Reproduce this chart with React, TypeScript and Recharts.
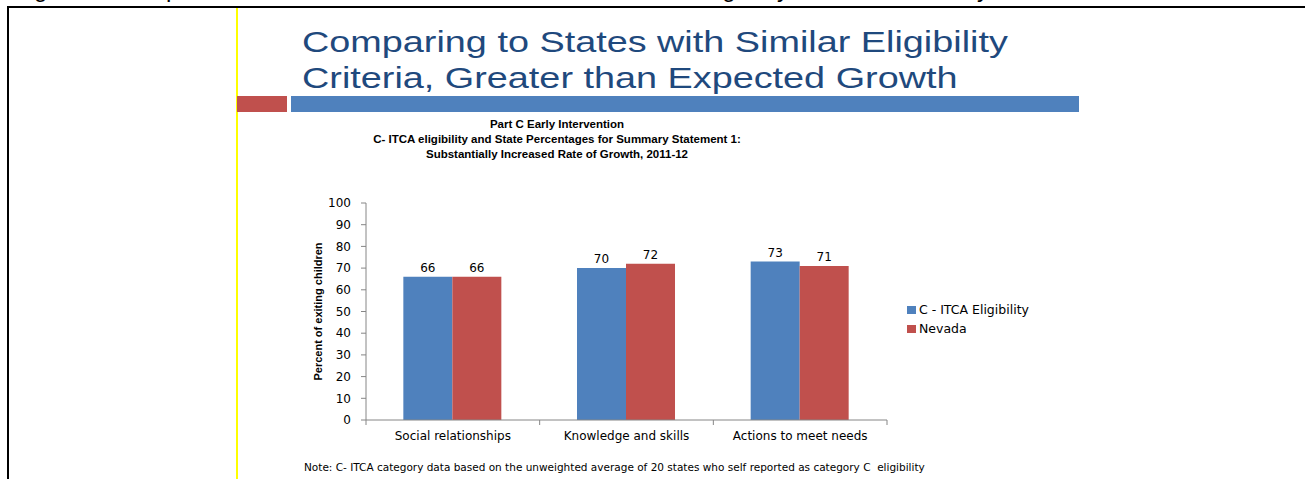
import React from "react";
import { Bar, BarChart, LabelList, Legend, XAxis, YAxis } from "recharts";

// Values
const categories = ["Social relationships", "Knowledge and skills", "Actions to meet needs"];
const itcaValues = [66, 70, 73];
const nevadaValues = [66, 72, 71];
const seriesNames = ["C - ITCA Eligibility", "Nevada"];
const yTicks = [0, 10, 20, 30, 40, 50, 60, 70, 80, 90, 100];

const BLUE = "#4F81BD";
const RED = "#C0504D";
const AXIS = "#868686";
const CHART_FONT = "'DejaVu Sans', Verdana, sans-serif";

const data = categories.map((c, i) => ({
  category: c,
  itca: itcaValues[i],
  nevada: nevadaValues[i],
}));

// X tick: label at the band centre, tick marks at the band edges (Excel style)
function CategoryTick(props: any): React.ReactElement {
  const { x, y, payload, index, visibleTicksCount, width } = props;
  const count = visibleTicksCount ?? categories.length;
  const half = (typeof width === "number" ? width : 521) / count / 2;
  return (
    <g>
      <line x1={x - half} x2={x - half} y1={y - 5} y2={y} stroke={AXIS} />
      {index === count - 1 && (
        <line x1={x + half} x2={x + half} y1={y - 5} y2={y} stroke={AXIS} />
      )}
      <text x={x} y={y} dy={15} textAnchor="middle" fill="#000" fontSize={12} fontFamily={CHART_FONT}>
        {payload.value}
      </text>
    </g>
  );
}

function YLabel(props: any): React.ReactElement {
  const vb = props.viewBox ?? { x: 0, y: 0, width: 0, height: 0 };
  const cx = vb.x + 18;
  const cy = vb.y + vb.height / 2;
  return (
    <text
      x={cx}
      y={cy}
      transform={`rotate(-90, ${cx}, ${cy})`}
      textAnchor="middle"
      dominantBaseline="central"
      fontSize={11}
      fontWeight="bold"
      fontFamily="'Liberation Sans Narrow', 'Arial Narrow', sans-serif"
      fill="#000"
    >
      Percent of exiting children
    </text>
  );
}

function LegendBox(props: any): React.ReactElement {
  const items = props.payload ?? [];
  return (
    <ul style={{ listStyle: "none", margin: 0, padding: 0 }}>
      {items.map((it: any) => (
        <li
          key={it.value}
          style={{ height: 19, lineHeight: "19px", fontSize: 12.5, fontFamily: CHART_FONT, color: "#000", whiteSpace: "nowrap" }}
        >
          <span style={{ display: "inline-block", width: 9, height: 8, background: it.color, marginRight: 3 }} />
          {it.value}
        </li>
      ))}
    </ul>
  );
}

export default function App(): React.ReactElement {
  return (
    <div style={{ position: "relative", width: 1305, height: 479, overflow: "hidden", background: "#fff", fontFamily: "'Liberation Sans', Arial, sans-serif" }}>
      <style>{"body{margin:0}"}</style>

      {/* cut-off document caption at the very top */}
      <div style={{ position: "absolute", left: 14, top: 0, width: 1291, height: 6, overflow: "hidden" }}>
        <div style={{ position: "absolute", top: -23, left: 0, whiteSpace: "nowrap", fontSize: 24, lineHeight: "24px", color: "#000" }}>
          Figure 6: Comparison of State Data to Other States with Similar Eligibility Criteria, Summary Statement 1
        </div>
      </div>

      {/* frame lines */}
      <div style={{ position: "absolute", left: 7, top: 6, width: 1298, height: 2, background: "#000" }} />
      <div style={{ position: "absolute", left: 7, top: 6, width: 2, height: 473, background: "#000" }} />
      <div style={{ position: "absolute", left: 236, top: 8, width: 1.5, height: 471, background: "#FFFF00" }} />

      {/* slide title */}
      <div
        style={{
          position: "absolute",
          left: 302,
          top: 24,
          fontSize: 30,
          lineHeight: "36px",
          color: "#1F497D",
          whiteSpace: "nowrap",
          transform: "scaleX(1.26)",
          transformOrigin: "left top",
        }}
      >
        <div>Comparing to States with Similar Eligibility</div>
        <div>Criteria, Greater than Expected Growth</div>
      </div>
      <div style={{ position: "absolute", left: 237, top: 96, width: 50, height: 16, background: RED }} />
      <div style={{ position: "absolute", left: 291, top: 96, width: 788, height: 16, background: BLUE }} />

      {/* chart title */}
      <div style={{ position: "absolute", left: 357, top: 117, width: 400, textAlign: "center", fontSize: 11.5, lineHeight: "15px", fontWeight: "bold", color: "#000", whiteSpace: "nowrap" }}>
        <div>Part C Early Intervention</div>
        <div>C- ITCA eligibility and State Percentages for Summary Statement 1:</div>
        <div>Substantially Increased Rate of Growth, 2011-12</div>
      </div>

      <div style={{ position: "absolute", left: 300, top: 110 }}>
        <BarChart
          width={800}
          height={360}
          data={data}
          margin={{ top: 93, right: 63, bottom: 20, left: 0 }}
          barCategoryGap="21.5%"
          barGap={0}
        >
          <XAxis
            dataKey="category"
            height={30}
            axisLine={{ stroke: AXIS }}
            tickLine={false}
            tickSize={5}
            tickMargin={0}
            tick={<CategoryTick />}
            interval={0}
          />
          <YAxis
            width={66}
            domain={[0, 100]}
            ticks={yTicks}
            interval={0}
            axisLine={{ stroke: AXIS }}
            tickLine={{ stroke: AXIS }}
            tickSize={5}
            tickMargin={10}
            tick={{ fill: "#000", fontSize: 12, fontFamily: CHART_FONT }}
            label={<YLabel />}
          />
          <Legend
            layout="vertical"
            align="right"
            verticalAlign="middle"
            content={<LegendBox />}
            wrapperStyle={{ position: "absolute", left: 607, top: 190, width: 150 }}
          />
          <Bar dataKey="itca" name={seriesNames[0]} fill={BLUE} isAnimationActive={false}>
            <LabelList dataKey="itca" position="top" offset={5} fill="#000" fontSize={12} fontFamily={CHART_FONT} />
          </Bar>
          <Bar dataKey="nevada" name={seriesNames[1]} fill={RED} isAnimationActive={false}>
            <LabelList dataKey="nevada" position="top" offset={5} fill="#000" fontSize={12} fontFamily={CHART_FONT} />
          </Bar>
        </BarChart>
      </div>

      <div style={{ position: "absolute", left: 304, top: 461, fontSize: 10.5, lineHeight: "12px", fontFamily: CHART_FONT, color: "#000", whiteSpace: "nowrap" }}>
        Note: C- ITCA category data based on the unweighted average of 20 states who self reported as category C&nbsp; eligibility
      </div>
    </div>
  );
}
